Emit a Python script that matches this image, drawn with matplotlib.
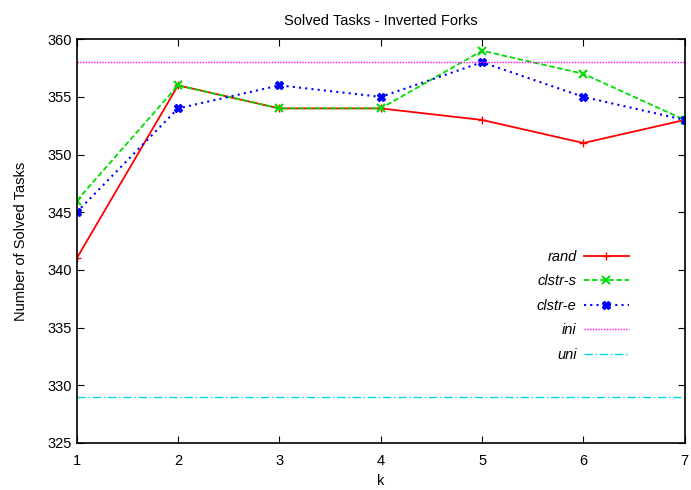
import matplotlib.pyplot as plt

k = [1, 2, 3, 4, 5, 6, 7]
rand = [341, 356, 354, 354, 353, 351, 353]
clstr_s = [346, 356, 354, 354, 359, 357, 353]
clstr_e = [345, 354, 356, 355, 358, 355, 353]
ini = 358
uni = 329

plt.rcParams["font.family"] = ["Liberation Sans", "DejaVu Sans"]

fig = plt.figure(figsize=(6.91, 4.9), dpi=100)
ax = fig.add_axes([0.111, 0.096, 0.880, 0.824])

ax.plot(k, rand, color="#ff0000", linestyle="-", marker="+", markersize=6, lw=1.3, label="rand")
ax.plot(k, clstr_s, color="#00dd00", linestyle=(0, (3, 1.5)), marker="x", markersize=6, mew=1.5, lw=1.3, label="clstr-s")
ax.plot(k, clstr_e, color="#0000ff", linestyle=(0, (1, 2)), marker="X", markersize=6, lw=1.5, label="clstr-e")
ax.axhline(ini, color="#ff00ff", linestyle=(0, (1, 1)), lw=1.0, label="ini")
ax.axhline(uni, color="#00dddd", linestyle=(0, (6, 2, 1, 2)), lw=1.0, label="uni")

ax.set_xlim(1, 7)
ax.set_ylim(325, 360)
ax.set_xticks(k)
ax.set_yticks(range(325, 361, 5))
ax.tick_params(direction="in", top=True, right=True, length=5, labelsize=10.5)
ax.tick_params(axis="x", pad=8)
for s in ax.spines.values():
    s.set_linewidth(1.2)

ax.set_xlabel("k", fontsize=10.5, labelpad=4)
ax.set_ylabel("Number of Solved Tasks", fontsize=10.5, labelpad=14)
ax.set_title("Solved Tasks - Inverted Forks", fontsize=10.5, pad=10)

leg = ax.legend(loc="center right", bbox_to_anchor=(0.93, 0.34), frameon=False,
                markerfirst=False, handlelength=3.1, handletextpad=0.5,
                labelspacing=0.72, fontsize=10.5)
for t in leg.get_texts():
    t.set_style("italic")
    t.set_ha("right")

fig.savefig("out.png", dpi=100)
